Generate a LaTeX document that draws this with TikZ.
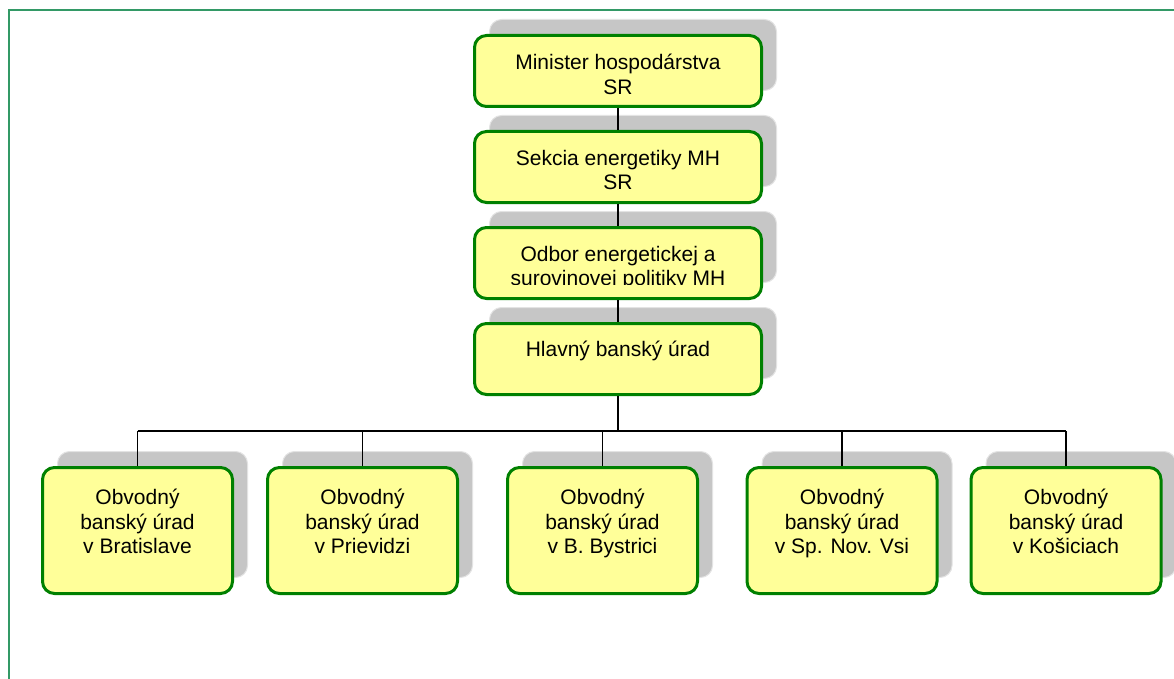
\documentclass[tikz,border=0pt]{standalone}
\usepackage{fontspec}
\setmainfont{Liberation Sans}
\usetikzlibrary{shadows, positioning}

\definecolor{boxgreen}{HTML}{008000}
\definecolor{boxyellow}{HTML}{FFFF99}
\definecolor{framegreen}{HTML}{339966}
\definecolor{shadowgray}{HTML}{C6C6C6}

\tikzset{
  orgbox/.style={draw=boxgreen, fill=boxyellow, line width=3pt, rounded corners=12pt, inner sep=0pt,
    copy shadow={shadow xshift=15pt, shadow yshift=16pt, fill=shadowgray, draw=gray!22, line width=1pt}},
  topbox/.style={orgbox, minimum width=287pt, minimum height=71pt},
  officebox/.style={orgbox, minimum width=190pt, minimum height=126pt},
  boxtext/.style={anchor=north, inner sep=0pt, align=center, font=\fontsize{21}{24.5}\selectfont},
  link/.style={line width=1.3pt},
  trunk/.style={line width=2pt}
}

\begin{document}
\begin{tikzpicture}[x=1pt, y=-1pt]

  \useasboundingbox (0,0) rectangle (1174,679);

  % frame (only top and left edge visible)
  \draw[framegreen, line width=2pt] (8.5,679) -- (8.5,10) -- (1174,10);

  % ministry chain
  \node[topbox] (minister) at (618,71) {};
  \node[boxtext, below=20pt of minister.north] (ministertxt) {Minister hospodárstva\\SR};

  \node[topbox] (sekcia) at (618,167) {};
  \node[boxtext, below=20pt of sekcia.north] (sekciatxt) {Sekcia energetiky MH\\SR};

  \node[topbox] (odbor) at (618,263) {};
  % text is cut off at the bottom in the original
  \begin{scope}
    \clip (470,225) rectangle (766,284.5);
    \node[boxtext, below=20pt of odbor.north] (odbortxt) {Odbor energetickej a\\surovinovej politiky MH};
  \end{scope}

  \node[topbox] (hlavny) at (618,359) {};
  \node[boxtext, below=19pt of hlavny.north] (hlavnytxt) {Hlavný banský úrad};

  % district offices
  \node[officebox] (obuBA) at (137.5,530.5) {};
  \node[boxtext, below=23pt of obuBA.north] (obuBAtxt) {Obvodný\\banský úrad\\v Bratislave};

  \node[officebox] (obuPD) at (362.5,530.5) {};
  \node[boxtext, below=23pt of obuPD.north] (obuPDtxt) {Obvodný\\banský úrad\\v Prievidzi};

  \node[officebox] (obuBB) at (602.5,530.5) {};
  \node[boxtext, below=23pt of obuBB.north] (obuBBtxt) {Obvodný\\banský úrad\\v B. Bystrici};

  \node[officebox] (obuSNV) at (842,530.5) {};
  \node[boxtext, below=23pt of obuSNV.north] (obuSNVtxt) {Obvodný\\banský úrad\\v Sp. Nov. Vsi};

  \node[officebox] (obuKE) at (1066,530.5) {};
  \node[boxtext, below=23pt of obuKE.north] (obuKEtxt) {Obvodný\\banský úrad\\v Košiciach};

  % links between the ministry levels
  \draw[link] (minister.south) -- (sekcia.north);
  \draw[link] (sekcia.south) -- (odbor.north);
  \draw[link] (odbor.south) -- (hlavny.north);

  % trunk and bus to the district offices
  \coordinate (bus) at (618,431);
  \draw[trunk] (hlavny.south) -- (bus);
  \draw[trunk] (obuBA.north |- bus) -- (obuKE.north |- bus);

  \draw[link] (obuBA.north |- bus) -- (obuBA.north);
  \draw[link] (obuPD.north |- bus) -- (obuPD.north);
  \draw[link] (obuBB.north |- bus) -- (obuBB.north);
  \draw[link] (obuSNV.north |- bus) -- (obuSNV.north);
  \draw[link] (obuKE.north |- bus) -- (obuKE.north);

\end{tikzpicture}
\end{document}
